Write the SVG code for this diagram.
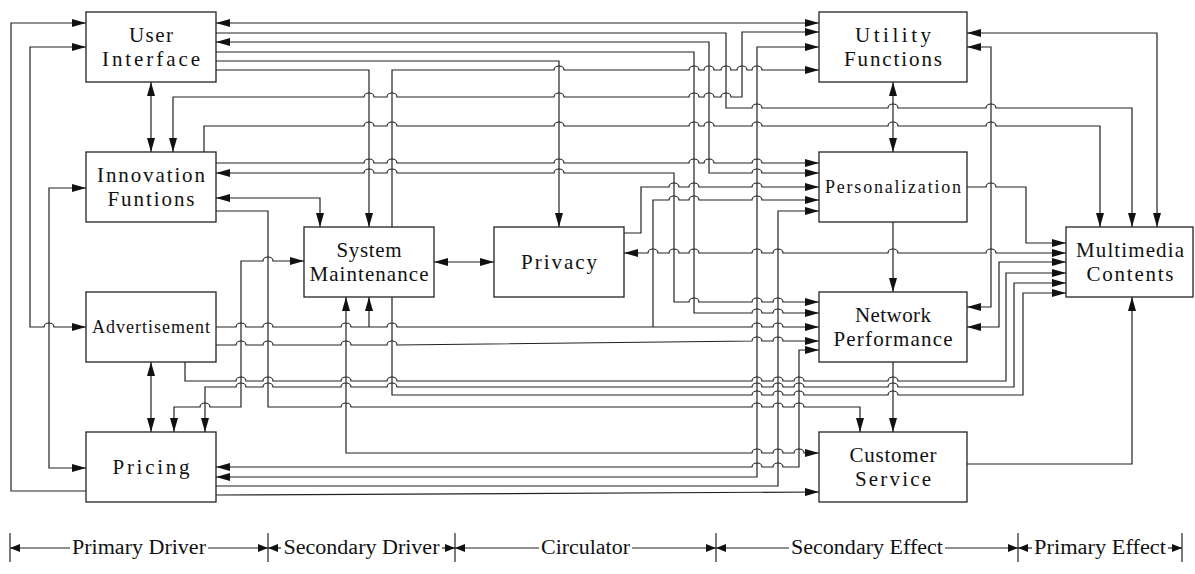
<svg xmlns="http://www.w3.org/2000/svg" width="1195" height="574" viewBox="0 0 1195 574">
  <style>
    .box { fill: #fff; stroke: #222; stroke-width: 1.3; }
    .c { fill: none; stroke: #222; stroke-width: 1.2; }
    .a { marker-end: url(#ah); }
    .b { marker-start: url(#ah); marker-end: url(#ah); }
    .t { font-family: "Liberation Serif", "Times New Roman", serif; font-size: 21px; fill: #111; text-anchor: middle; }
    .ts { font-family: "Liberation Serif", "Times New Roman", serif; font-size: 18px; fill: #111; text-anchor: middle; }
    .lg { font-family: "Liberation Serif", "Times New Roman", serif; font-size: 20px; fill: #111; text-anchor: middle; }
    .tick { stroke: #222; stroke-width: 1.2; }
    .la { fill: none; stroke: #222; stroke-width: 1.2; marker-end: url(#lah); }
  </style>
  <defs>
    <marker id="ah" viewBox="0 0 14 8" refX="14" refY="4" markerWidth="14" markerHeight="8" markerUnits="userSpaceOnUse" orient="auto-start-reverse">
      <path d="M0,0 L14,4 L0,8 z" fill="#111"/>
    </marker>
    <marker id="lah" viewBox="0 0 10 8" refX="10" refY="4" markerWidth="10" markerHeight="8" markerUnits="userSpaceOnUse" orient="auto">
      <path d="M0,0 L10,4 L0,8 z" fill="#111"/>
    </marker>
  </defs>
  <rect width="1195" height="574" fill="#fff"/>

  <!-- connectors; horizontal runs hop over vertical runs with small arcs -->
  <g id="connectors">
    <path class="c b" d="M216,23H819"/>
    <path class="c a" d="M216,33H726V108H752a5,4 0 0 1 10,0H888a5,4 0 0 1 10,0H986a5,4 0 0 1 10,0H1132V227"/>
    <path class="c b" d="M216,42H709V173H752a5,4 0 0 1 10,0H819"/>
    <path class="c a" d="M216,52H694V313H752a5,4 0 0 1 10,0H773a5,4 0 0 1 10,0H819"/>
    <path class="c a" d="M216,61H559V227"/>
    <path class="c a" d="M216,70H369V227"/>
    <path class="c a" d="M392,227V70H554a5,4 0 0 1 10,0H689a5,4 0 0 1 10,0H704a5,4 0 0 1 10,0H721a5,4 0 0 1 10,0H737a5,4 0 0 1 10,0H752a5,4 0 0 1 10,0H819"/>
    <path class="c b" d="M173,152V97H364a5,4 0 0 1 10,0H387a5,4 0 0 1 10,0H554a5,4 0 0 1 10,0H689a5,4 0 0 1 10,0H704a5,4 0 0 1 10,0H721a5,4 0 0 1 10,0H742V32H819"/>
    <path class="c a" d="M204,152V126H364a5,4 0 0 1 10,0H387a5,4 0 0 1 10,0H554a5,4 0 0 1 10,0H689a5,4 0 0 1 10,0H704a5,4 0 0 1 10,0H752a5,4 0 0 1 10,0H888a5,4 0 0 1 10,0H986a5,4 0 0 1 10,0H1100V227"/>
    <path class="c b" d="M893,82V152"/>
    <path class="c b" d="M967,33H1157V227"/>
    <path class="c b" d="M967,47H991V307H967"/>
    <path class="c a" d="M216,163H364a5,4 0 0 1 10,0H387a5,4 0 0 1 10,0H554a5,4 0 0 1 10,0H689a5,4 0 0 1 10,0H704a5,4 0 0 1 10,0H752a5,4 0 0 1 10,0H819"/>
    <path class="c b" d="M216,173H364a5,4 0 0 1 10,0H387a5,4 0 0 1 10,0H554a5,4 0 0 1 10,0H674V302H689a5,4 0 0 1 10,0H752a5,4 0 0 1 10,0H773a5,4 0 0 1 10,0H819"/>
    <path class="c b" d="M216,198H320V227"/>
    <path class="c a" d="M216,211H268V407H341a5,4 0 0 1 10,0H752a5,4 0 0 1 10,0H773a5,4 0 0 1 10,0H794a5,4 0 0 1 10,0H860V432"/>
    <path class="c a" d="M624,233H641V187H669a5,4 0 0 1 10,0H689a5,4 0 0 1 10,0H752a5,4 0 0 1 10,0H819"/>
    <path class="c a" d="M216,327H236a5,4 0 0 1 10,0H263a5,4 0 0 1 10,0H341a5,4 0 0 1 10,0H387a5,4 0 0 1 10,0H752a5,4 0 0 1 10,0H773a5,4 0 0 1 10,0H819"/>
    <path class="c a" d="M369,327V297"/>
    <path class="c a" d="M653,327V200H669a5,4 0 0 1 10,0H689a5,4 0 0 1 10,0H752a5,4 0 0 1 10,0H819"/>
    <path class="c a" d="M216,345H236a5,4 0 0 1 10,0H263a5,4 0 0 1 10,0H341a5,4 0 0 1 10,0H387a5,4 0 0 1 10,0L752,341a5,4 0 0 1 10,0H773a5,4 0 0 1 10,0H819"/>
    <path class="c a" d="M216,486H778V211H819"/>
    <path class="c b" d="M216,477H757V47H819"/>
    <path class="c b" d="M216,467H752a5,4 0 0 1 10,0H773a5,4 0 0 1 10,0H799V350H819"/>
    <path class="c a" d="M216,495L819,492"/>
    <path class="c b" d="M346,297V453H752a5,4 0 0 1 10,0H773a5,4 0 0 1 10,0H794a5,4 0 0 1 10,0H819"/>
    <path class="c b" d="M174,432V407H200a5,4 0 0 1 10,0H241V261H263a5,4 0 0 1 10,0H304"/>
    <path class="c a" d="M185,362V381H236a5,4 0 0 1 10,0H263a5,4 0 0 1 10,0H341a5,4 0 0 1 10,0H387a5,4 0 0 1 10,0H752a5,4 0 0 1 10,0H773a5,4 0 0 1 10,0H794a5,4 0 0 1 10,0H888a5,4 0 0 1 10,0H1006V273H1066"/>
    <path class="c b" d="M205,432V387H236a5,4 0 0 1 10,0H263a5,4 0 0 1 10,0H341a5,4 0 0 1 10,0H387a5,4 0 0 1 10,0H752a5,4 0 0 1 10,0H773a5,4 0 0 1 10,0H794a5,4 0 0 1 10,0H888a5,4 0 0 1 10,0H1014V283H1066"/>
    <path class="c a" d="M392,297V395H752a5,4 0 0 1 10,0H773a5,4 0 0 1 10,0H794a5,4 0 0 1 10,0H888a5,4 0 0 1 10,0H1023V293H1066"/>
    <path class="c a" d="M967,187H986a5,4 0 0 1 10,0H1026V243H1066"/>
    <path class="c b" d="M624,253H648a5,4 0 0 1 10,0H669a5,4 0 0 1 10,0H689a5,4 0 0 1 10,0H752a5,4 0 0 1 10,0H773a5,4 0 0 1 10,0H888a5,4 0 0 1 10,0H986a5,4 0 0 1 10,0H1066"/>
    <path class="c b" d="M967,327H999V262H1066"/>
    <path class="c a" d="M893,222V292"/>
    <path class="c a" d="M893,362V432"/>
    <path class="c a" d="M967,464H1132V297"/>
    <path class="c b" d="M434,262H494"/>
    <path class="c b" d="M151,82V152"/>
    <path class="c b" d="M151,362V432"/>
    <path class="c a" d="M86,491H11V23H86"/>
    <path class="c b" d="M86,47H30V327H44a5,4 0 0 1 10,0H86"/>
    <path class="c b" d="M86,188H49V468H86"/>
  </g>

  <!-- nodes -->
  <g id="ui">
    <rect class="box" x="86" y="12" width="130" height="70"/>
    <text class="t" x="151" y="42" textLength="44" lengthAdjust="spacing">User</text>
    <text class="t" x="151" y="66" textLength="98" lengthAdjust="spacing">Interface</text>
  </g>
  <g id="innov">
    <rect class="box" x="86" y="152" width="130" height="70"/>
    <text class="t" x="151" y="182" textLength="108" lengthAdjust="spacing">Innovation</text>
    <text class="t" x="151" y="206" textLength="87" lengthAdjust="spacing">Funtions</text>
  </g>
  <g id="advert">
    <rect class="box" x="86" y="292" width="130" height="70"/>
    <text class="ts" x="151" y="333" textLength="118" lengthAdjust="spacing">Advertisement</text>
  </g>
  <g id="pricing">
    <rect class="box" x="86" y="432" width="130" height="70"/>
    <text class="t" x="151" y="474" textLength="77" lengthAdjust="spacing">Pricing</text>
  </g>
  <g id="sysmaint">
    <rect class="box" x="304" y="227" width="130" height="70"/>
    <text class="t" x="369" y="257" textLength="65" lengthAdjust="spacing">System</text>
    <text class="t" x="369" y="281" textLength="119" lengthAdjust="spacing">Maintenance</text>
  </g>
  <g id="privacy">
    <rect class="box" x="494" y="227" width="130" height="70"/>
    <text class="t" x="559" y="269" textLength="76" lengthAdjust="spacing">Privacy</text>
  </g>
  <g id="utility">
    <rect class="box" x="819" y="12" width="148" height="70"/>
    <text class="t" x="893" y="42" textLength="76" lengthAdjust="spacing">Utility</text>
    <text class="t" x="893" y="66" textLength="98" lengthAdjust="spacing">Functions</text>
  </g>
  <g id="personal">
    <rect class="box" x="819" y="152" width="148" height="70"/>
    <text class="ts" x="893" y="193" textLength="136" lengthAdjust="spacing">Personalization</text>
  </g>
  <g id="netperf">
    <rect class="box" x="819" y="292" width="148" height="70"/>
    <text class="t" x="893" y="322" textLength="76" lengthAdjust="spacing">Network</text>
    <text class="t" x="893" y="346" textLength="119" lengthAdjust="spacing">Performance</text>
  </g>
  <g id="custsvc">
    <rect class="box" x="819" y="432" width="148" height="70"/>
    <text class="t" x="893" y="462" textLength="87" lengthAdjust="spacing">Customer</text>
    <text class="t" x="893" y="486" textLength="76" lengthAdjust="spacing">Service</text>
  </g>
  <g id="multimedia">
    <rect class="box" x="1066" y="227" width="127" height="70"/>
    <text class="t" x="1130" y="257" textLength="108" lengthAdjust="spacing">Multimedia</text>
    <text class="t" x="1130" y="281" textLength="87" lengthAdjust="spacing">Contents</text>
  </g>

  <!-- stage legend -->
  <g id="legend">
    <line class="tick" x1="10" y1="533" x2="10" y2="562"/>
    <line class="tick" x1="268" y1="533" x2="268" y2="562"/>
    <line class="tick" x1="455" y1="533" x2="455" y2="562"/>
    <line class="tick" x1="716" y1="533" x2="716" y2="562"/>
    <line class="tick" x1="1018" y1="533" x2="1018" y2="562"/>
    <line class="tick" x1="1182" y1="533" x2="1182" y2="562"/>
    <path class="la" d="M70,548H10"/>
    <path class="la" d="M208,548H268"/>
    <text class="lg" x="139" y="554" textLength="134" lengthAdjust="spacingAndGlyphs">Primary Driver</text>
    <path class="la" d="M281,548H268"/>
    <path class="la" d="M442,548H455"/>
    <text class="lg" x="361.5" y="554" textLength="156" lengthAdjust="spacingAndGlyphs">Secondary Driver</text>
    <path class="la" d="M539,548H455"/>
    <path class="la" d="M632,548H716"/>
    <text class="lg" x="585.5" y="554" textLength="89" lengthAdjust="spacingAndGlyphs">Circulator</text>
    <path class="la" d="M789,548H716"/>
    <path class="la" d="M945,548H1018"/>
    <text class="lg" x="867" y="554" textLength="152" lengthAdjust="spacingAndGlyphs">Secondary Effect</text>
    <path class="la" d="M1032,548H1018"/>
    <path class="la" d="M1168,548H1182"/>
    <text class="lg" x="1100" y="554" textLength="132" lengthAdjust="spacingAndGlyphs">Primary Effect</text>
  </g>
</svg>
